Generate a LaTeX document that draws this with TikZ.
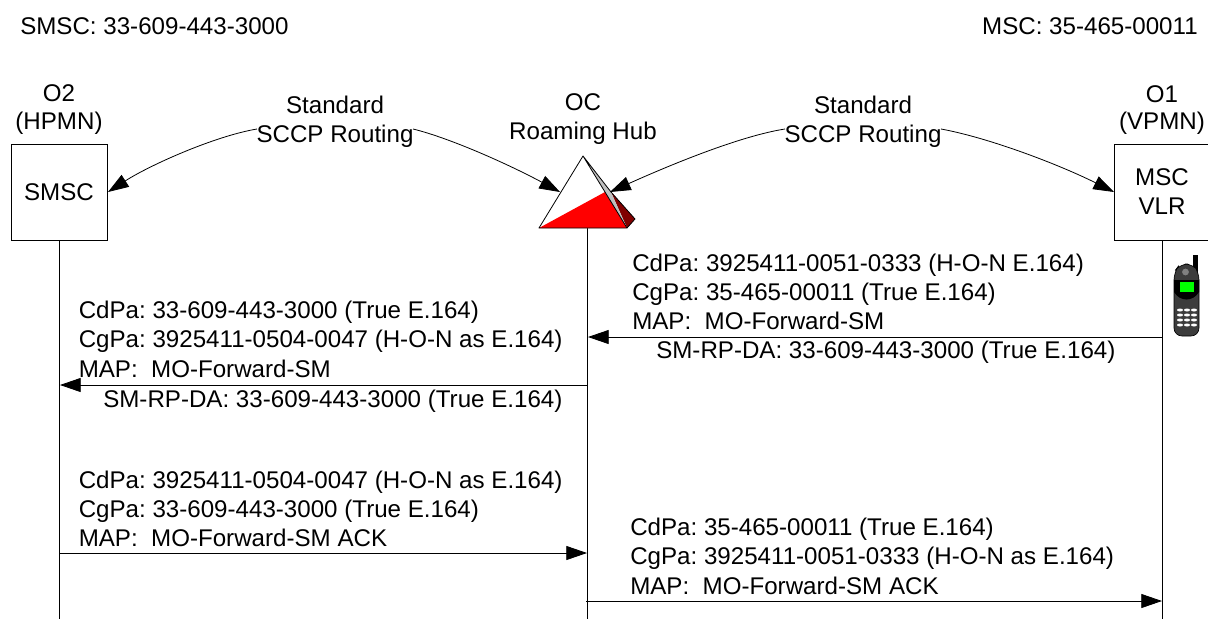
\documentclass[tikz,border=0pt]{standalone}
\usepackage{fontspec}
\setmainfont{Liberation Sans}
\usetikzlibrary{arrows.meta}
\definecolor{darkred}{RGB}{128,0,0}
\definecolor{phonegray}{RGB}{60,60,60}
\tikzset{
 x=0.75pt,y=-0.75pt,
 txt/.style={inner sep=0pt,anchor=base west,font=\fontsize{18.1}{21.6}\selectfont\frenchspacing},
 ctr/.style={inner sep=0pt,anchor=base,font=\fontsize{18.1}{21.6}\selectfont\frenchspacing},
 life/.style={draw=black,line width=0.6pt},
 box/.style={draw=black,line width=0.6pt,fill=white,inner sep=0pt},
 msg/.style={draw=black,line width=0.6pt,-{Triangle[length=15.5pt,width=10.5pt]}},
 arc/.style={draw=black,line width=0.6pt,-{Triangle[length=15.5pt,width=10.5pt]}},
}
\begin{document}
\begin{tikzpicture}
\useasboundingbox (0,0) rectangle (1208,619);
\node[txt] (t1) at (20,34) {SMSC: 33-609-443-3000};
\node[txt,anchor=base east] (t2) at (1198,34) {MSC: 35-465-00011};
\node[ctr] (o2a) at (59,101) {O2};
\node[ctr] (o2b) at (59,129) {(HPMN)};
\node[ctr] (oca) at (583,110) {OC};
\node[ctr] (ocb) at (583,139) {Roaming Hub};
\node[ctr] (o1a) at (1162,102) {O1};
\node[ctr] (o1b) at (1162,129) {(VPMN)};
\coordinate (l1t) at (59,240); \coordinate (l1b) at (59,619);
\coordinate (l2t) at (587,228); \coordinate (l2b) at (587,619);
\coordinate (l3t) at (1162,240); \coordinate (l3b) at (1162,619);
\draw[life] (l1t)--(l1b);
\draw[life] (l2t)--(l2b);
\draw[life] (l3t)--(l3b);
\draw[box] (11.5,144.5) rectangle (107.5,240);
\draw[box] (1114,144.5) rectangle (1215,240);
\node[ctr] (smsc) at (59,200) {SMSC};
\node[ctr] (msc) at (1162,185) {MSC};
\node[ctr] (vlr) at (1162,214) {VLR};
\fill[darkred] (611,192)--(635,219)--(627,228)--cycle;
\fill[white] (583,156)--(539,228)--(627,228)--cycle;
\fill[red] (539,228)--(605,192)--(627,228)--cycle;
\fill[gray!50] (583,156)--(611,192)--(627,228)--cycle;
\draw[line width=0.6pt,line join=round] (583,156)--(539,228)--(627,228)--(635,219)--(611,192)--cycle (583,156)--(627,228);
\coordinate (hubL) at (560,192); \coordinate (hubR) at (610,192);
\coordinate (smscE) at (108,192); \coordinate (mscW) at (1114,192);
\coordinate (s1) at (257,129); \coordinate (s1r) at (413,129);
\coordinate (s2) at (785,129); \coordinate (s2r) at (941,129);
\draw[arc] (s1) .. controls (215,136) and (150,165) .. (smscE);
\draw[arc] (s1r) .. controls (450,138) and (510,165) .. (hubL);
\draw[arc] (s2) .. controls (740,136) and (670,165) .. (hubR);
\draw[arc] (s2r) .. controls (990,138) and (1060,165) .. (mscW);
\node[ctr] (lab1a) at (335,113) {Standard};
\node[ctr] (lab1b) at (335,142) {SCCP Routing};
\node[ctr] (lab2a) at (863,113) {Standard};
\node[ctr] (lab2b) at (863,142) {SCCP Routing};
\node[txt] (a1) at (632,271) {CdPa: 3925411-0051-0333 (H-O-N E.164)};
\node[txt] (a2) at (632,300) {CgPa: 35-465-00011 (True E.164)};
\node[txt] (a3) at (632,329) {MAP:\ \ MO-Forward-SM};
\node[txt] (a4) at (656,358) {SM-RP-DA: 33-609-443-3000 (True E.164)};
\node[txt] (b1) at (78.5,318) {CdPa: 33-609-443-3000 (True E.164)};
\node[txt] (b2) at (78.5,347) {CgPa: 3925411-0504-0047 (H-O-N as E.164)};
\node[txt] (b3) at (78.5,377) {MAP:\ \ MO-Forward-SM};
\node[txt] (b4) at (103,407) {SM-RP-DA: 33-609-443-3000 (True E.164)};
\node[txt] (c1) at (78.5,488) {CdPa: 3925411-0504-0047 (H-O-N as E.164)};
\node[txt] (c2) at (78.5,517) {CgPa: 33-609-443-3000 (True E.164)};
\node[txt] (c3) at (78.5,546) {MAP:\ \ MO-Forward-SM ACK};
\node[txt] (d1) at (630,535) {CdPa: 35-465-00011 (True E.164)};
\node[txt] (d2) at (630,564) {CgPa: 3925411-0051-0333 (H-O-N as E.164)};
\node[txt] (d3) at (630,594) {MAP:\ \ MO-Forward-SM ACK};
\coordinate (m1a) at (1162,337); \coordinate (m1b) at (588,337);
\coordinate (m2a) at (587,385); \coordinate (m2b) at (60,385);
\coordinate (m3a) at (59,553); \coordinate (m3b) at (587,553);
\coordinate (m4a) at (586,601); \coordinate (m4b) at (1162,601);
\draw[msg] (m1a)--(m1b);
\draw[msg] (m2a)--(m2b);
\draw[msg] (m3a)--(m3b);
\draw[msg] (m4a)--(m4b);
\fill[black] (1193,255) rectangle (1198,275);
\fill[phonegray,draw=black,line width=0.5pt,rounded corners=6pt] (1174,336) -- (1174,272) -- (1180,264) -- (1193,264) -- (1199,272) -- (1199,336) -- cycle;
\fill[black] (1174,280) -- (1199,280) -- (1199,292) .. controls (1193,302) and (1180,302) .. (1174,292) -- cycle;
\fill[green] (1180,282) rectangle (1194,292);
\fill[gray] (1185.5,272) circle (3.4);
\foreach \r in {310,315,320,325}
  \foreach \c in {1180,1187,1194}
    \fill[white] (\c,\r) ellipse (3 and 1.5);
\end{tikzpicture}
\end{document}
